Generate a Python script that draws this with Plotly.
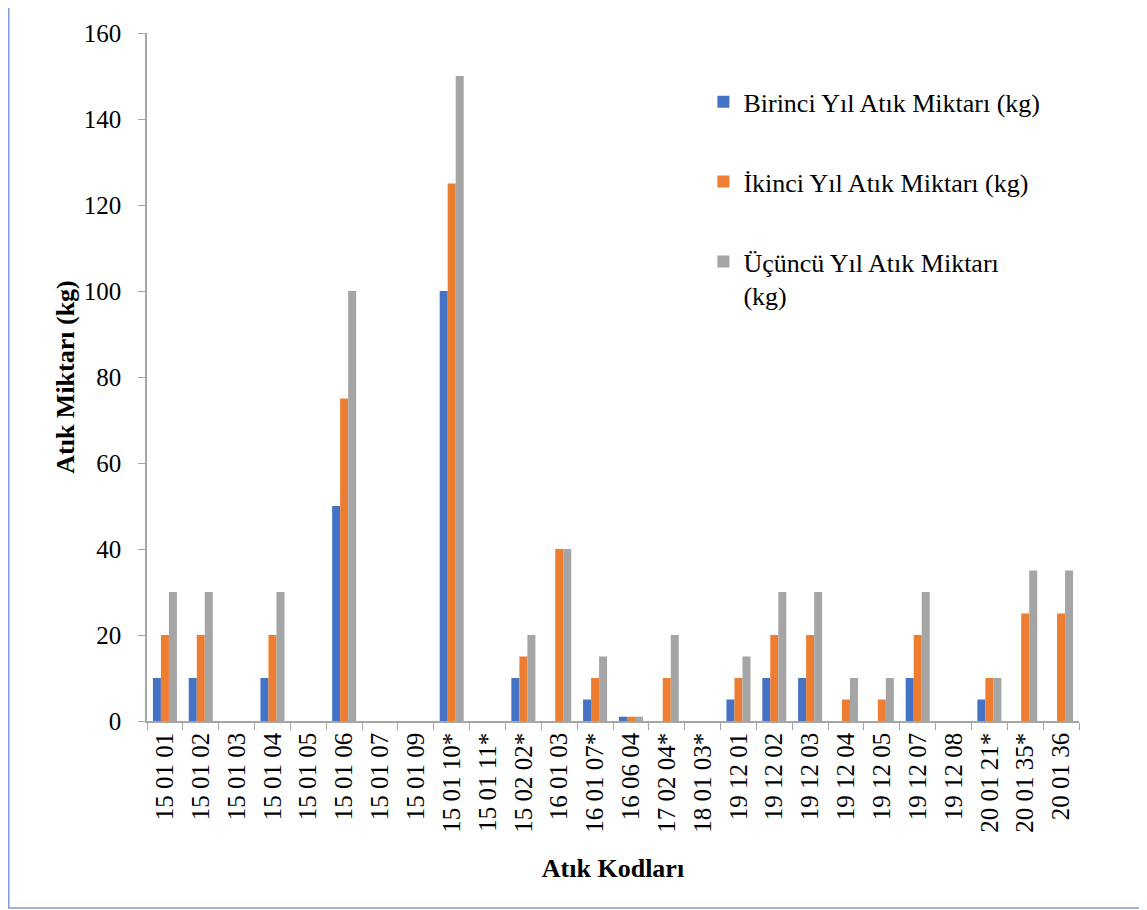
import plotly.graph_objects as go

categories = ["15 01 01", "15 01 02", "15 01 03", "15 01 04", "15 01 05", "15 01 06",
              "15 01 07", "15 01 09", "15 01 10*", "15 01 11*", "15 02 02*", "16 01 03",
              "16 01 07*", "16 06 04", "17 02 04*", "18 01 03*", "19 12 01", "19 12 02",
              "19 12 03", "19 12 04", "19 12 05", "19 12 07", "19 12 08", "20 01 21*",
              "20 01 35*", "20 01 36"]
year1 = [10, 10, 0, 10, 0, 50, 0, 0, 100, 0, 10, 0, 5, 1, 0, 0, 5, 10, 10, 0, 0, 10, 0, 5, 0, 0]
year2 = [20, 20, 0, 20, 0, 75, 0, 0, 125, 0, 15, 40, 10, 1, 10, 0, 10, 20, 20, 5, 5, 20, 0, 10, 25, 25]
year3 = [30, 30, 0, 30, 0, 100, 0, 0, 150, 0, 20, 40, 15, 1, 20, 0, 15, 30, 30, 10, 10, 30, 0, 10, 35, 35]
series_names = ["Birinci Yıl Atık Miktarı (kg)", "İkinci Yıl Atık Miktarı (kg)",
                "Üçüncü Yıl Atık Miktarı<br>(kg)"]
colors = ["#4472C4", "#ED7D31", "#A5A5A5"]

FONT = "Liberation Serif"

fig = go.Figure()
for i, (name, vals) in enumerate(zip(series_names, [year1, year2, year3])):
    fig.add_trace(go.Bar(x=categories, y=vals, name=name, marker_color=colors[i],
                         marker_line_width=0, legendgroup=f"g{i}"))

fig.update_layout(
    width=1139, height=902,
    margin=dict(l=139, r=68, t=21, b=189),
    paper_bgcolor="white", plot_bgcolor="white",
    barmode="group", bargap=0.33, bargroupgap=0,
    font=dict(family=FONT, size=25, color="black"),
    legend=dict(x=0.597, y=0.934, xanchor="left", yanchor="top",
                traceorder="grouped", tracegroupgap=43, valign="top",
                font=dict(family=FONT, size=26, color="black"),
                bgcolor="rgba(0,0,0,0)"),
    showlegend=True,
)
fig.update_xaxes(
    showline=True, linecolor="#A6A6A6", linewidth=1.5,
    ticks="outside", tickson="boundaries", ticklen=7, tickcolor="#A6A6A6",
    tickangle=-90, tickfont=dict(family=FONT, size=25),
    showgrid=False,
    title=dict(text="<b>Atık Kodları</b>", font=dict(family=FONT, size=26), standoff=27),
)
fig.update_yaxes(
    range=[0, 160], dtick=20, showline=True, linecolor="#A6A6A6", linewidth=1.5,
    ticks="outside", ticklen=7, tickcolor="#A6A6A6", ticklabelstandoff=12,
    tickfont=dict(family=FONT, size=25),
    showgrid=False, zeroline=False,
    title=dict(text="<b>Atık Miktarı (kg)</b>", font=dict(family=FONT, size=26), standoff=2),
)
fig.add_shape(type="rect", xref="paper", yref="paper",
              x0=-0.1483, x1=1.0670, y0=-0.2717, y1=1.05,
              line=dict(color="#7B9BD8", width=1.5), fillcolor="rgba(0,0,0,0)", layer="above")

fig.write_html("out.html")
